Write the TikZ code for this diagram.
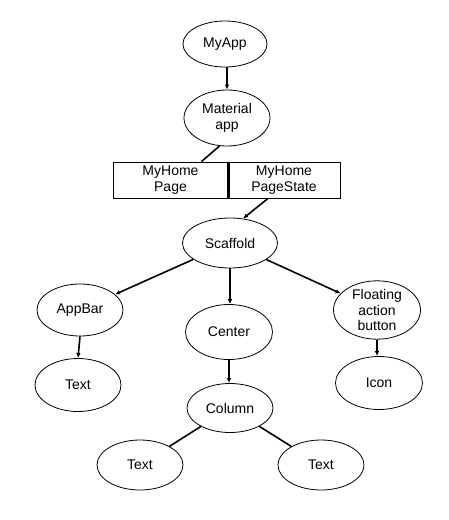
\documentclass[tikz,border=0pt]{standalone}
\usepackage{fontspec}
\setmainfont{Liberation Sans}
\usetikzlibrary{shapes.geometric,arrows.meta,calc}
\begin{document}
\begin{tikzpicture}[x=1pt,y=-1pt,
  every node/.style={font=\fontsize{14}{15.5}\selectfont},
  el/.style={draw, ellipse, line width=0.8pt, inner sep=0pt, align=center},
  bx/.style={draw, rectangle, line width=0.9pt, inner sep=0pt, align=center},
  conn/.style={line width=1.6pt},
  arr/.style={conn, -{Latex[length=5pt,width=4.5pt]}}
]
\useasboundingbox (0,0) rectangle (448,520);
\node[el, minimum width=84pt, minimum height=46pt] (myapp) at (225,44) {MyApp};
\node[el, minimum width=86pt, minimum height=56pt] (material) at (227,118) {Material\\app};
\node[bx, minimum width=115pt, minimum height=36pt] (page) at (170.5,180) {MyHome\\Page};
\node[bx, minimum width=112pt, minimum height=36pt] (state) at (284,180) {MyHome\\PageState};
\draw[line width=2.6pt] (page.north east) -- (page.south east);
\node[el, minimum width=95pt, minimum height=50pt] (scaffold) at (230,243) {Scaffold};
\node[el, minimum width=86pt, minimum height=52pt] (appbar) at (80,310) {AppBar};
\node[el, minimum width=87pt, minimum height=55pt] (center) at (229,332) {Center};
\node[el, minimum width=87pt, minimum height=56pt] (fab) at (377,310) {Floating\\action\\button};
\node[el, minimum width=86pt, minimum height=53pt] (text1) at (78,385) {Text};
\node[el, minimum width=86pt, minimum height=49pt] (column) at (230,408) {Column};
\node[el, minimum width=87pt, minimum height=53pt] (icon) at (379,383) {Icon};
\node[el, minimum width=86pt, minimum height=50pt] (text2) at (140,465) {Text};
\node[el, minimum width=86pt, minimum height=50pt] (text3) at (321,465) {Text};

\draw[arr] (material.north |- myapp.south) -- (material.north);
\draw[conn] (material.255) -- ([xshift=31pt]page.north);
\draw[arr] ([xshift=-16pt]state.south) -- (scaffold.62);
\draw[arr] (scaffold) -- (appbar);
\draw[arr] (scaffold.south) -- (scaffold.south |- center.north);
\draw[arr] (scaffold) -- (fab);
\draw[arr] (appbar.south) -- (text1.north);
\draw[arr] (center.south) -- (center.south |- column.north);
\draw[arr] (fab.south) -- (fab.south |- icon.north);
\draw[conn] (column) -- (text2);
\draw[conn] (column) -- (text3);
\end{tikzpicture}
\end{document}
